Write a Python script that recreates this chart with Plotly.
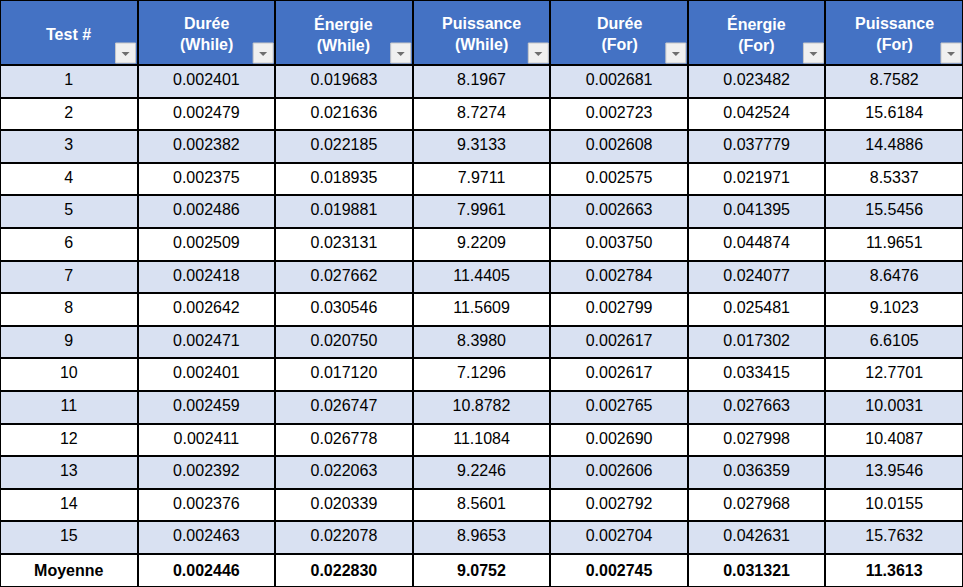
import plotly.graph_objects as go

### Data ###
test_ids = [str(i) for i in range(1, 16)]
duree_while = [0.002401, 0.002479, 0.002382, 0.002375, 0.002486, 0.002509, 0.002418, 0.002642,
               0.002471, 0.002401, 0.002459, 0.002411, 0.002392, 0.002376, 0.002463]
energie_while = [0.019683, 0.021636, 0.022185, 0.018935, 0.019881, 0.023131, 0.027662, 0.030546,
                 0.020750, 0.017120, 0.026747, 0.026778, 0.022063, 0.020339, 0.022078]
puissance_while = [8.1967, 8.7274, 9.3133, 7.9711, 7.9961, 9.2209, 11.4405, 11.5609,
                   8.3980, 7.1296, 10.8782, 11.1084, 9.2246, 8.5601, 8.9653]
duree_for = [0.002681, 0.002723, 0.002608, 0.002575, 0.002663, 0.003750, 0.002784, 0.002799,
             0.002617, 0.002617, 0.002765, 0.002690, 0.002606, 0.002792, 0.002704]
energie_for = [0.023482, 0.042524, 0.037779, 0.021971, 0.041395, 0.044874, 0.024077, 0.025481,
               0.017302, 0.033415, 0.027663, 0.027998, 0.036359, 0.027968, 0.042631]
puissance_for = [8.7582, 15.6184, 14.4886, 8.5337, 15.5456, 11.9651, 8.6476, 9.1023,
                 6.6105, 12.7701, 10.0031, 10.4087, 13.9546, 10.0155, 15.7632]

mean_label = "Moyenne"
mean_values = [0.002446, 0.022830, 9.0752, 0.002745, 0.031321, 11.3613]

headers = ["Test #", "Durée<br>(While)", "Énergie<br>(While)", "Puissance<br>(While)",
           "Durée<br>(For)", "Énergie<br>(For)", "Puissance<br>(For)"]
decimals = [6, 6, 4, 6, 6, 4]


### Build table ###
series = [duree_while, energie_while, puissance_while, duree_for, energie_for, puissance_for]
columns = [test_ids + [f"<b>{mean_label}</b>"]]
for vals, mv, d in zip(series, mean_values, decimals):
    columns.append([f"{v:.{d}f}" for v in vals] + [f"<b>{mv:.{d}f}</b>"])

n_rows = len(test_ids) + 1
band, white = "#D9E1F2", "#FFFFFF"
row_fill = [band if i % 2 == 0 else white for i in range(len(test_ids))] + [white]

W, H = 963, 587
header_h = 65
cell_h = 32.6
ncol = len(headers)

fig = go.Figure()
fig.add_trace(go.Table(
    columnwidth=[1] * ncol,
    header=dict(
        values=[""] * ncol,
        fill_color="#4472C4",
        line=dict(color="black", width=2),
        height=header_h,
    ),
    cells=dict(
        values=columns,
        fill_color=[row_fill] * ncol,
        line=dict(color="black", width=2),
        font=dict(color="black", size=16, family="Liberation Sans"),
        align="center",
        height=cell_h,
    ),
    domain=dict(x=[0, 1], y=[0, 1]),
))

# header labels, vertically centred like in Excel
for i, h in enumerate(headers):
    fig.add_annotation(
        xref="paper", yref="paper",
        x=(i + 0.5) / ncol, y=1 - 34 / H,
        text=f"<b>{h}</b>", showarrow=False,
        font=dict(color="white", size=16, family="Liberation Sans"),
        align="center", xanchor="center", yanchor="middle",
    )

# filter dropdown buttons in header cells
for i in range(ncol):
    x1 = (i + 1) / ncol - 2 / W
    x0 = x1 - 20 / W
    y0 = 1 - 63 / H
    y1 = 1 - 43 / H
    fig.add_shape(type="rect", xref="paper", yref="paper", x0=x0, x1=x1, y0=y0, y1=y1,
                  fillcolor="#F0F0F0", line=dict(color="#C8C8C8", width=1))
    cx = (x0 + x1) / 2
    cy = (y0 + y1) / 2 - 1 / H
    fig.add_shape(type="path", xref="paper", yref="paper",
                  path=f"M {cx - 4 / W} {cy + 2 / H} L {cx + 4 / W} {cy + 2 / H} L {cx} {cy - 2 / H} Z",
                  fillcolor="#6E6E6E", line=dict(width=0))

fig.update_layout(
    width=W,
    height=H,
    margin=dict(l=0, r=0, t=0, b=0),
    paper_bgcolor="white",
)

fig.write_html("out.html", config={"displayModeBar": False},
               post_script="document.body.style.margin='0';")
